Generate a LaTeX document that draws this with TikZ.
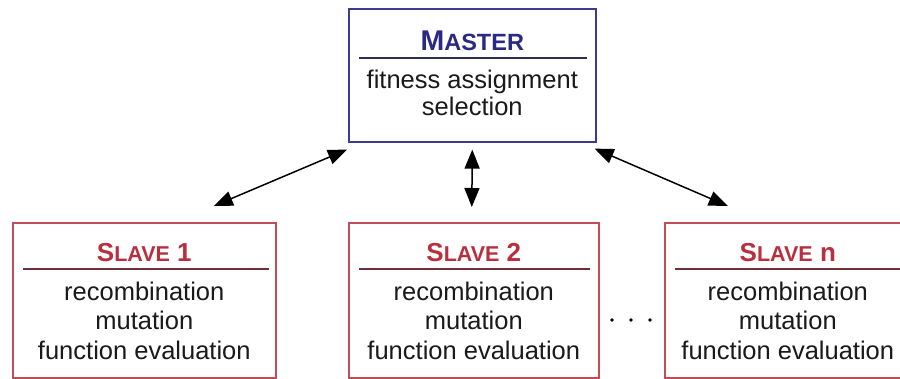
\documentclass[tikz,border=0pt]{standalone}
\usepackage{fontspec}
\setmainfont{Liberation Sans}
\usetikzlibrary{arrows.meta,calc}

\definecolor{masterblue}{HTML}{3C3C8C}
\definecolor{mastertitle}{HTML}{2A2A82}
\definecolor{masterrule}{HTML}{2E2E52}
\definecolor{slavered}{HTML}{C24C58}
\definecolor{slavetitle}{HTML}{B8303E}
\definecolor{slaverule}{HTML}{6E3038}
\definecolor{bodytext}{HTML}{1A1A1A}

\tikzset{
  masterbox/.style={draw=masterblue, line width=1.6pt, inner sep=0pt, fill=white},
  slavebox/.style={draw=slavered, line width=1.6pt, inner sep=0pt, fill=white,
    minimum height=155pt},
  hrule/.style={line width=2pt},
  txt/.style={anchor=base, inner sep=0pt, text=bodytext, font=\fontsize{25.5}{29}\selectfont},
  ttl/.style={anchor=base, inner sep=0pt, font=\bfseries},
  link/.style={line width=1.5pt, black,
    {Triangle[length=19pt,width=15pt]}-{Triangle[length=19pt,width=15pt]}},
  dotmark/.style={circle, fill=black, inner sep=0pt, minimum size=3.8pt}
}

\newcommand{\masterttl}{{\fontsize{28.5}{28}\selectfont M}{\fontsize{23.5}{23}\selectfont ASTER}}
\newcommand{\slavettl}[1]{{\fontsize{26}{26}\selectfont S}{\fontsize{21.5}{21.5}\selectfont LAVE}{\fontsize{26}{26}\selectfont\ #1}}

\begin{document}
\begin{tikzpicture}[x=1pt,y=-1pt]
\useasboundingbox (0,0) rectangle (900,378);
\fill[white] (0,0) rectangle (900,378);

% master process
\node[masterbox, minimum width=247pt, minimum height=133pt, anchor=north west] (master) at (348,8) {};
\draw[hrule, masterrule] ($(master.north west)+(11,50)$) -- ($(master.north east)+(-10,50)$);
\node[ttl, text=mastertitle] (mt) at ($(master.north)+(0,42)$) {\masterttl};
\node[txt] (mb1) at ($(master.north)+(0,80)$) {fitness assignment};
\node[txt] (mb2) at ($(master.north)+(0,107)$) {selection};

% slave processes
\node[slavebox, minimum width=263pt, anchor=north west] (s1) at (12,222) {};
\node[slavebox, minimum width=250pt, anchor=north west] (s2) at (348,222) {};
\node[slavebox, minimum width=246pt, anchor=north west] (sn) at (664,222) {};

\draw[hrule, slaverule] ($(s1.north west)+(11,47)$) -- ($(s1.north east)+(-8,47)$);
\draw[hrule, slaverule] ($(s2.north west)+(11,47)$) -- ($(s2.north east)+(-10,47)$);
\draw[hrule, slaverule] ($(sn.north west)+(11,47)$) -- ($(sn.north east)+(-10,47)$);

\foreach \s/\n in {s1/1, s2/2, sn/n} {
  \node[ttl, text=slavetitle] (\s t) at ($(\s.north)+(0,39)$) {\slavettl{\n}};
  \node[txt] (\s a) at ($(\s.north)+(0,78)$) {recombination};
  \node[txt] (\s b) at ($(\s.north)+(0,107)$) {mutation};
  \node[txt] (\s c) at ($(\s.north)+(0,137)$) {function evaluation};
}

% ellipsis between slave 2 and slave n
\node[dotmark] (d1) at (612,320) {};
\node[dotmark] (d2) at (631,320) {};
\node[dotmark] (d3) at (650,320) {};

% communication links
\coordinate (m1) at ($(master.south west)+(-1,7)$);
\coordinate (m2) at ($(master.south)+(0,7)$);
\coordinate (m3) at ($(master.south east)+(-2,6)$);
\coordinate (e1) at ($(s1.north)+(69.5,-16)$);
\coordinate (e2) at ($(s2.north)+(-2,-15)$);
\coordinate (e3) at ($(sn.north)+(-60,-16)$);
\draw[link] (m1) -- (e1);
\draw[link] (m2) -- (e2);
\draw[link] (m3) -- (e3);
\end{tikzpicture}
\end{document}
